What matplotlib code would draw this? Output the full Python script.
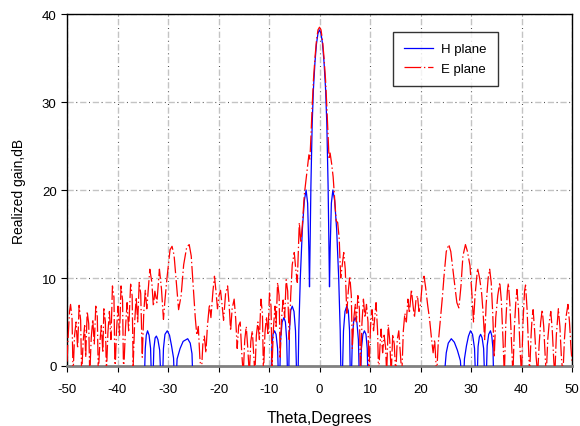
import matplotlib
matplotlib.use("Agg")
import matplotlib.pyplot as plt

plt.rcParams["font.family"] = ["Liberation Sans", "DejaVu Sans"]
plt.rcParams["lines.scale_dashes"] = False
plt.rcParams["axes.unicode_minus"] = False

# =========================
# data
# =========================
x_ticks = [-50, -40, -30, -20, -10, 0, 10, 20, 30, 40, 50]
y_ticks = [0, 10, 20, 30, 40]

# H plane (values below 0 dB fall under the axis)
h_theta = [
    -50, -35.0,
    -34.75, -34.5, -34.3, -34.05, -33.75, -33.45, -33.2,
    -33.05, -32.8, -32.55, -32.3, -32.0, -31.65, -31.3,
    -31.15, -30.9, -30.6, -30.15, -29.7, -29.3, -28.9, -28.65,
    -28.5, -28.2, -27.6, -27.0, -26.1, -25.6, -25.25, -25.0,
    -24.8, -10.0,
    -9.65, -9.45, -9.2, -8.9, -8.6, -8.3, -8.05,
    -7.95, -7.7, -7.4, -7.05, -6.75, -6.5, -6.25,
    -6.15, -5.95, -5.7, -5.4, -5.05, -4.75, -4.45,
    -4.3, -4.1, -3.8, -3.4, -3.0, -2.65, -2.35, -2.1, -1.98,
    -1.85, -1.7, -1.45, -1.2, -0.9, -0.6, -0.3, 0.0,
    0.3, 0.6, 0.9, 1.2, 1.45, 1.7, 1.85,
    1.98, 2.1, 2.35, 2.65, 3.0, 3.4, 3.8, 4.1, 4.3,
    4.45, 4.75, 5.05, 5.4, 5.7, 5.95, 6.15,
    6.25, 6.5, 6.75, 7.05, 7.4, 7.7, 7.95,
    8.05, 8.3, 8.6, 8.9, 9.2, 9.45, 9.65,
    10.0, 24.6,
    24.8, 25.1, 25.5, 26.1, 26.7, 27.3, 27.9, 28.3,
    28.45, 28.7, 29.1, 29.5, 29.9, 30.3, 30.7, 31.0,
    31.15, 31.4, 31.65, 31.9, 32.2, 32.5, 32.8,
    32.95, 33.2, 33.5, 33.85, 34.1, 34.35, 34.55,
    34.8, 50,
]
h_gain = [
    -10, -10,
    -3, 2.0, 3.5, 4.0, 3.5, 2.0, -3,
    -3, 2.0, 3.2, 3.4, 3.0, 1.8, -3,
    -3, 2.0, 3.6, 4.0, 3.5, 2.3, 0.9, -3,
    -3, 0.8, 2.0, 2.8, 3.1, 2.6, 1.4, -3,
    -10, -10,
    -3, 2.0, 3.6, 4.0, 3.6, 2.0, -3,
    -3, 3.0, 5.0, 5.5, 5.0, 3.0, -3,
    -3, 4.0, 6.3, 6.8, 6.2, 4.0, -3,
    -3, 4.0, 10.0, 15.5, 18.8, 20.0, 18.5, 13.0, 9.0,
    14.0, 20.5, 27.5, 31.5, 34.5, 36.6, 37.8, 38.2,
    37.8, 36.6, 34.5, 31.5, 27.5, 20.5, 14.0,
    9.0, 13.0, 18.5, 20.0, 18.8, 15.5, 10.0, 4.0, -3,
    -3, 4.0, 6.2, 6.8, 6.3, 4.0, -3,
    -3, 3.0, 5.0, 5.5, 5.0, 3.0, -3,
    -3, 2.0, 3.6, 4.0, 3.6, 2.0, -3,
    -10, -10,
    -0.5, 1.5, 2.6, 3.1, 2.7, 1.8, 0.6, -3,
    -3, 0.8, 2.3, 3.4, 4.0, 3.6, 2.0, -3,
    -3, 2.2, 3.3, 3.6, 3.2, 2.0, -3,
    -3, 2.3, 3.6, 4.0, 3.5, 2.0, -3,
    -10, -10,
]

# E plane
e_theta = [
    -50.0, -49.8, -49.5, -49.3, -49.0, -48.8, -48.5, -48.2, -47.9, -47.6,
    -47.3, -47.1, -46.8, -46.5, -46.3, -46.0, -45.7, -45.5, -45.2, -44.9,
    -44.6, -44.3, -44.0, -43.8, -43.5, -43.2, -42.9, -42.7, -42.4, -42.2,
    -41.9, -41.6, -41.3, -41.0, -40.7, -40.5, -40.2, -39.9, -39.6, -39.3,
    -39.0, -38.8, -38.4, -38.1, -37.8, -37.4, -37.1, -36.9, -36.6, -36.3,
    -36.0, -35.7, -35.4, -35.1, -34.8, -34.5, -34.2, -33.6, -33.2, -32.9,
    -32.6, -32.2, -31.7, -31.3, -30.9, -30.6, -30.2, -29.6, -29.2, -28.8,
    -28.4, -27.9, -27.4, -26.9, -26.3, -25.8, -25.4, -25.0, -24.6, -24.3,
    -24.0, -23.7, -23.4, -23.1, -22.8, -22.5, -22.2, -21.8, -21.5, -21.1,
    -20.8, -20.5, -20.2, -19.9, -19.6, -19.3, -19.0, -18.6, -18.2, -17.9,
    -17.6, -17.3, -16.9, -16.6, -16.3, -16.0, -15.7, -15.4, -15.1, -14.8,
    -14.5, -14.2, -13.9, -13.6, -13.3, -13.0, -12.8, -12.5, -12.2, -11.9,
    -11.6, -11.3, -11.1, -10.8, -10.5, -10.2, -9.9, -9.6, -9.4, -9.1,
    -8.8, -8.6, -8.3, -8.0, -7.8, -7.5, -7.2, -6.9, -6.6, -6.3,
    -6.0, -5.7, -5.4, -5.0, -4.7, -4.4, -4.0, -3.7, -3.4, -3.0,
    -2.7, -2.4, -2.1, -1.9, -1.7, -1.45, -1.2, -0.9, -0.6, -0.3,
    0.0,
    0.3, 0.6, 0.9, 1.2, 1.45, 1.7, 1.9, 2.1, 2.4, 2.7,
    3.0, 3.3, 3.6, 3.9, 4.2, 4.5, 4.8, 5.1, 5.4, 5.7,
    6.0, 6.3, 6.5, 6.8, 7.1, 7.3, 7.6, 7.9, 8.1, 8.4,
    8.7, 9.0, 9.3, 9.6, 9.8, 10.1, 10.4, 10.7, 11.0, 11.2,
    11.5, 11.7, 12.0, 12.2, 12.5, 12.8, 13.1, 13.3, 13.6, 13.9,
    14.2, 14.5, 14.8, 15.1, 15.4, 15.7, 16.0, 16.3, 16.6, 16.9,
    17.2, 17.5, 17.8, 18.2, 18.5, 18.8, 19.1, 19.4, 19.7, 20.0,
    20.3, 20.7, 21.0, 21.4, 21.8, 22.2, 22.5, 22.8, 23.2, 23.5,
    23.9, 24.3, 24.7, 25.1, 25.6, 26.0, 26.4, 26.8, 27.2, 27.6,
    28.0, 28.4, 28.9, 29.3, 29.8, 30.2, 30.5, 30.8, 31.3, 31.7,
    32.1, 32.4, 32.7, 33.0, 33.4, 33.7, 34.0, 34.3, 34.6, 34.9,
    35.3, 35.7, 36.0, 36.3, 36.6, 36.9, 37.2, 37.4, 37.7, 38.0,
    38.3, 38.6, 38.9, 39.1, 39.4, 39.7, 40.0, 40.3, 40.6, 40.8,
    41.1, 41.4, 41.6, 41.9, 42.1, 42.3, 42.6, 42.9, 43.2, 43.5,
    43.8, 44.1, 44.4, 44.7, 44.9, 45.2, 45.5, 45.8, 46.1, 46.4,
    46.6, 46.9, 47.1, 47.3, 47.6, 47.9, 48.2, 48.5, 48.8, 49.2,
    49.5, 49.8, 50.0,
]
e_gain = [
    0.5, 3.0, 6.2, 7.0, 5.4, -1, 3.5, 5.0, 2.0, 6.9,
    5.2, -1, 2.8, 4.6, 1.0, 6.2, 4.8, -1, 3.2, 5.3,
    2.5, 6.8, 5.6, -1, 2.6, 4.6, 1.5, 6.5, 5.0, -1,
    3.8, 6.2, 3.0, 9.1, 7.8, -1, 4.0, 6.8, 3.5, 9.1,
    7.5, -1, 4.5, 7.2, 4.0, 9.3, 8.0, 0, 5.0, 7.8,
    5.0, 9.5, 8.2, 1.0, 6.0, 8.6, 6.5, 11.0, 9.5, 6.8,
    8.5, 7.2, 11.0, 8.8, 5.3, 7.5, 10.0, 13.2, 13.6, 12.6,
    9.8, 6.4, 8.0, 11.5, 13.5, 13.8, 12.5, 9.0, 5.5, 3.5,
    4.5, 1.0, -1, 2.5, 3.4, 1.5, 4.5, 7.0, 5.5, 8.5,
    10.2, 8.5, 6.5, 8.0, 8.6, 7.0, 5.2, 8.2, 9.1, 7.0,
    4.0, 6.5, 7.6, 5.4, 2.0, 4.6, 5.0, 1.5, -1, 3.0,
    4.5, 2.0, -1, 2.8, 4.0, 1.0, -1, 3.5, 5.0, 3.0,
    7.6, 6.0, -1, 3.8, 5.6, 3.5, 8.3, 6.8, 0, 4.5,
    6.8, 4.5, 9.5, 8.0, 1.0, 5.5, 7.5, 5.5, 9.8, 8.5,
    3.0, 8.0, 11.5, 12.9, 11.0, 9.5, 16.3, 14.0, 16.0, 19.5,
    21.0, 22.5, 24.0, 23.5, 26.0, 29.5, 32.5, 35.0, 37.0, 38.2,
    38.5,
    38.2, 37.0, 35.0, 32.5, 29.5, 26.0, 23.5, 24.2, 23.0, 21.5,
    19.0, 16.5, 16.3, 14.5, 10.0, 11.5, 12.9, 11.0, 6.0, 8.5,
    10.2, 8.0, 2.0, 5.5, 7.0, 5.0, 8.0, 6.5, -1, 4.8,
    7.6, 5.5, 7.0, 5.0, -1, 4.5, 6.4, 4.0, 6.0, 7.2,
    4.0, -1, 2.5, 4.2, 1.5, 3.5, 2.0, -1, 4.7, 3.0,
    -1, 3.6, 2.5, -1, 3.0, 4.0, 1.5, -1, 4.0, 6.0,
    5.0, 7.6, 6.0, 8.7, 7.0, 5.5, 7.5, 8.0, 6.2, 7.0,
    9.1, 10.2, 9.0, 7.0, 5.3, 3.0, 1.5, 3.0, -1, 2.5,
    5.0, 7.6, 10.5, 13.0, 13.8, 13.0, 11.0, 9.1, 7.2, 6.6,
    9.0, 12.5, 13.8, 13.0, 11.4, 8.0, 5.0, 8.0, 11.1, 10.0,
    8.3, 6.0, 3.0, 7.0, 10.0, 11.0, 9.5, 6.0, 1.0, 5.5,
    8.0, 9.5, 7.5, 3.5, -1, 5.0, 8.5, 9.4, 7.0, 3.0,
    -1, 4.5, 7.5, 8.7, 6.5, 2.0, -1, 5.0, 8.5, 9.2,
    6.5, 2.0, -1, 3.5, 5.5, 6.4, 4.0, 1.0, -1, 2.5,
    5.0, 6.4, 4.5, 1.0, -1, 3.0, 5.0, 6.2, 4.0, 0.5,
    -1, 3.5, 5.0, 6.5, 4.5, 1.0, -1, 3.0, 5.5, 7.0,
    5.0, 2.0, 0.5,
]

# =========================
# figure
# =========================
fig = plt.figure(figsize=(5.8, 4.27), dpi=100)
ax = fig.add_axes([67 / 580, 60 / 427, 505 / 580, 352 / 427])

# grid: light grey dashes with dark dots in the gaps
for t in x_ticks:
    ax.axvline(t, color="#c4c4c4", lw=1.0, linestyle=(0, (4.5, 4.6)), zorder=0)
    ax.axvline(t, color="#303030", lw=0.8, linestyle=(2.7, (0.6, 8.5)), zorder=0)
for t in y_ticks:
    ax.axhline(t, color="#c4c4c4", lw=1.0, linestyle=(0, (4.5, 4.6)), zorder=0)
    ax.axhline(t, color="#303030", lw=0.8, linestyle=(2.7, (0.6, 8.5)), zorder=0)

ax.plot(h_theta, h_gain, color="#0000ff", lw=0.9, label="H plane", zorder=3)
ax.plot(e_theta, e_gain, color="#ff0000", lw=0.9, dashes=(12, 2, 1, 2),
        label="E plane", zorder=4)

ax.set_xlim(-50, 50)
ax.set_ylim(0, 40)
ax.set_xticks(x_ticks)
ax.set_yticks(y_ticks)
ax.tick_params(axis="both", direction="out", length=4, width=0.8,
               labelsize=9.5, colors="black")
ax.tick_params(axis="x", pad=8)

for side in ["left", "top", "right"]:
    ax.spines[side].set_color("black")
    ax.spines[side].set_linewidth(1.0)
ax.spines["bottom"].set_color("#808080")
ax.spines["bottom"].set_linewidth(2.0)

ax.set_xlabel("Theta,Degrees", fontsize=11.5, labelpad=11)
ax.set_ylabel("Realized gain,dB", fontsize=10, labelpad=11)

leg = ax.legend(loc="upper left", bbox_to_anchor=(0.6455, 0.949),
                fontsize=9.5, frameon=True, fancybox=False, handlelength=2.2,
                borderpad=0.85, labelspacing=0.55, handletextpad=0.6,
                borderaxespad=0)
leg.get_frame().set_edgecolor("black")
leg.get_frame().set_linewidth(1.0)

plt.savefig("out.png", dpi=100)
plt.close()
